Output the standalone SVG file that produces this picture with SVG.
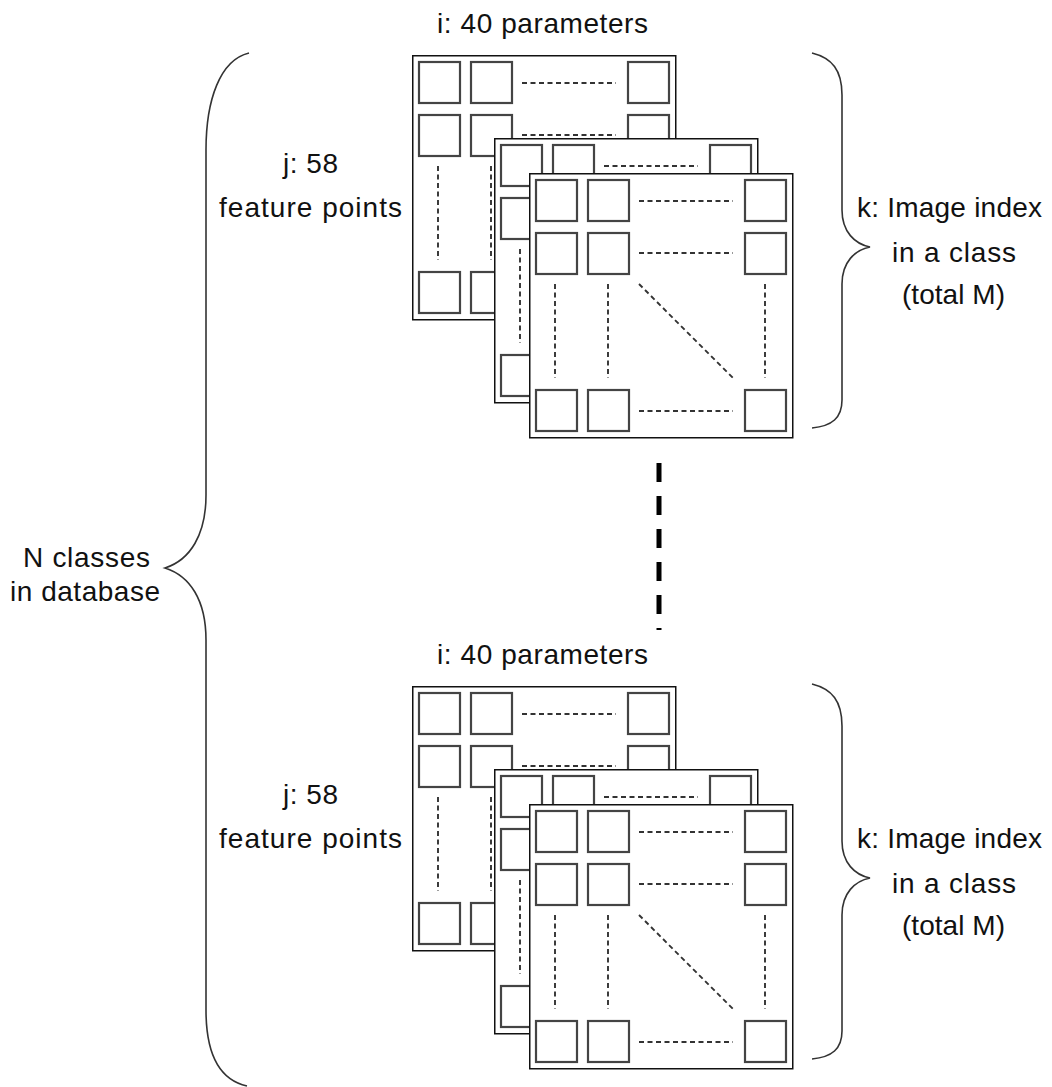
<svg xmlns="http://www.w3.org/2000/svg" xmlns:xlink="http://www.w3.org/1999/xlink" width="1052" height="1087" viewBox="0 0 1052 1087">
<style>
  .lbl { font-family: "Liberation Sans", Arial, sans-serif; font-size: 28px; fill: #111; }
  .frame { fill: #fff; stroke: #111; stroke-width: 1.5; }
  .cell { fill: #fff; stroke: #444; stroke-width: 2.2; }
  .dash { fill: none; stroke: #333; stroke-width: 1.9; stroke-dasharray: 5 3.5; }
  .brace { fill: none; stroke: #333; stroke-width: 1.6; }
  .bigdash { fill: none; stroke: #000; stroke-width: 5; stroke-dasharray: 19 14; }
</style>
<defs>
  <g id="matrix">
    <rect class="frame" x="0.75" y="0.75" width="263" height="264"/>
    <rect class="cell" x="7" y="7" width="41" height="41"/>
    <rect class="cell" x="59" y="7" width="41" height="41"/>
    <rect class="cell" x="216" y="7" width="41" height="41"/>
    <rect class="cell" x="7" y="60" width="41" height="41"/>
    <rect class="cell" x="59" y="60" width="41" height="41"/>
    <rect class="cell" x="216" y="60" width="41" height="41"/>
    <rect class="cell" x="7" y="217" width="41" height="41"/>
    <rect class="cell" x="59" y="217" width="41" height="41"/>
    <rect class="cell" x="216" y="217" width="41" height="41"/>
    <path class="dash" d="M110 28H204M110 80H204M110 238H204"/>
    <path class="dash" d="M26 111V205M79 111V205M236 111V205"/>
    <path class="dash" d="M110 111L204 205"/>
  </g>
</defs>

<g id="connectors">
  <path class="brace" d="M249 53 C220 60, 206 100, 206 150 L206 495 C206 535, 190 560, 165 568 C190 576, 206 600, 206 640 L206 1010 C206 1055, 220 1080, 247 1086"/>
  <path class="brace" d="M812 53 C832 58, 842 70, 842 95 L842 210 C842 232, 855 244, 870 247 C855 250, 842 262, 842 284 L842 400 C842 418, 832 426, 812 428"/>
  <path class="brace" d="M812 684 C832 689, 842 701, 842 726 L842 841 C842 863, 855 875, 870 878 C855 881, 842 893, 842 915 L842 1031 C842 1049, 832 1057, 812 1059"/>
  <path class="bigdash" d="M659 463V630"/>
</g>

<g id="class-1">
  <g id="class-1-image-1"><use xlink:href="#matrix" href="#matrix" x="412" y="55"/></g>
  <g id="class-1-image-2"><use xlink:href="#matrix" href="#matrix" x="494" y="138"/></g>
  <g id="class-1-image-3"><use xlink:href="#matrix" href="#matrix" x="529" y="173"/></g>
  <text class="lbl" x="437" y="33" textLength="211">i: 40 parameters</text>
  <text class="lbl" x="283" y="173" textLength="55">j: 58</text>
  <text class="lbl" x="219" y="217" textLength="183">feature points</text>
  <text class="lbl" x="857" y="217" textLength="185">k: Image index</text>
  <text class="lbl" x="892" y="262" textLength="124">in a class</text>
  <text class="lbl" x="902" y="304" textLength="103">(total M)</text>
</g>

<g id="class-N">
  <g id="class-N-image-1"><use xlink:href="#matrix" href="#matrix" x="412" y="686"/></g>
  <g id="class-N-image-2"><use xlink:href="#matrix" href="#matrix" x="494" y="769"/></g>
  <g id="class-N-image-3"><use xlink:href="#matrix" href="#matrix" x="529" y="804"/></g>
  <text class="lbl" x="437" y="664" textLength="211">i: 40 parameters</text>
  <text class="lbl" x="283" y="804" textLength="55">j: 58</text>
  <text class="lbl" x="219" y="848" textLength="183">feature points</text>
  <text class="lbl" x="857" y="848" textLength="185">k: Image index</text>
  <text class="lbl" x="892" y="893" textLength="124">in a class</text>
  <text class="lbl" x="902" y="935" textLength="103">(total M)</text>
</g>

<g id="database-label">
  <text class="lbl" x="23" y="567" textLength="127">N classes</text>
  <text class="lbl" x="10" y="601" textLength="150">in database</text>
</g>
</svg>
